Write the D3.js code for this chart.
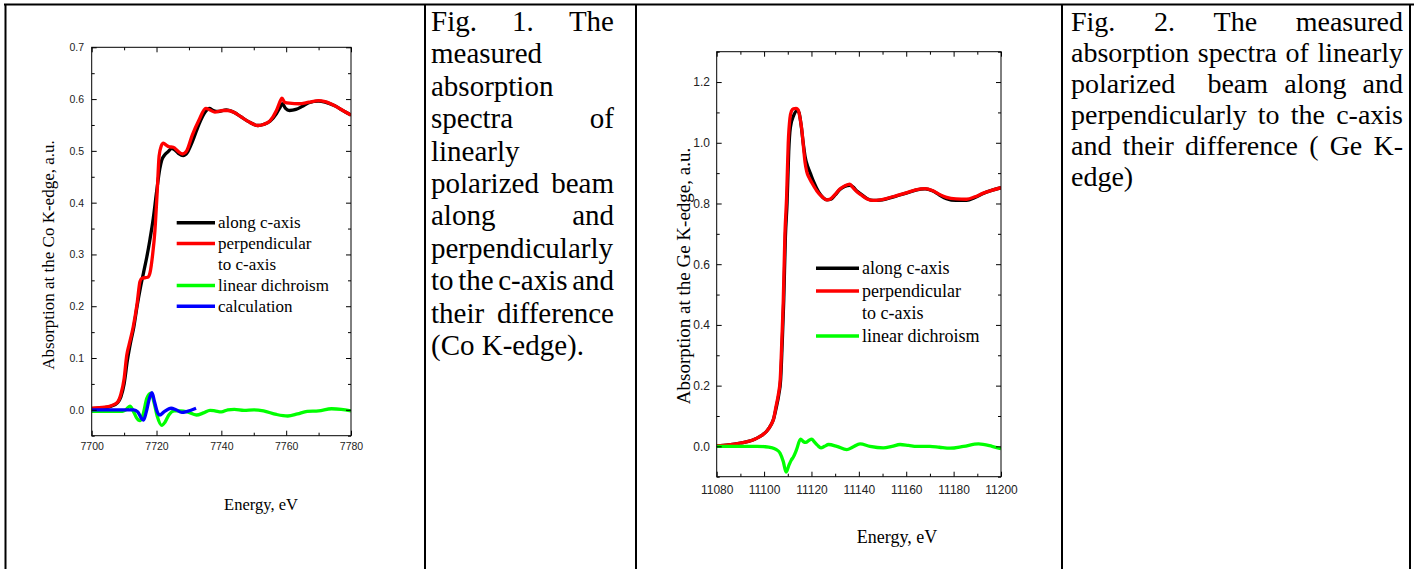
<!DOCTYPE html>
<html>
<head>
<meta charset="utf-8">
<script src="https://cdn.jsdelivr.net/npm/d3@7"></script>
<style>
body{margin:0;background:#fff;}
.tick text{font-family:"Liberation Sans",Arial,sans-serif;fill:#222;}
.serif{font-family:"Liberation Serif","Times New Roman",serif;fill:#000;}
</style>
</head>
<body>
<svg id="page" width="1414" height="569"></svg>
<script>
// Fig. 1 - Co K-edge
var coAlongE=[7700,7704,7706,7708,7709,7710,7711,7712,7713,7714,7715,7716,7717,7718,7719,7720,7721,7721.6,7722.5,7723.5,7724.7,7726,7727,7728.2,7729.5,7731,7733,7735,7736.3,7737.5,7739,7741.5,7744,7746,7748.5,7751.3,7753,7755,7757,7758.2,7758.8,7759.8,7761,7763,7765,7767,7770,7772,7775,7778,7780];
var coAlong=[0.002,0.004,0.007,0.014,0.025,0.05,0.095,0.13,0.16,0.2,0.235,0.265,0.295,0.33,0.37,0.42,0.465,0.482,0.492,0.498,0.505,0.5,0.494,0.491,0.497,0.517,0.55,0.575,0.582,0.578,0.576,0.579,0.574,0.566,0.556,0.549,0.551,0.557,0.572,0.585,0.591,0.582,0.578,0.58,0.586,0.593,0.596,0.594,0.587,0.576,0.569];
var coPerpE=[7700,7704,7706,7708,7709,7710,7710.8,7711.5,7712.8,7714,7714.9,7715.5,7717.3,7718,7718.8,7719.5,7720.2,7720.8,7721.5,7722.1,7723,7723.8,7725.2,7726.5,7728,7729.3,7731,7733,7735.2,7736.5,7738,7740.5,7742,7744,7746,7748.5,7751.3,7753,7755,7757,7758.3,7758.7,7759.5,7761,7764,7767,7770,7772,7775,7778,7780];
var coPerp=[0.003,0.005,0.008,0.015,0.03,0.06,0.105,0.125,0.16,0.205,0.248,0.254,0.256,0.265,0.3,0.345,0.42,0.49,0.51,0.515,0.511,0.508,0.507,0.5,0.494,0.5,0.53,0.558,0.582,0.579,0.575,0.578,0.578,0.574,0.566,0.556,0.549,0.551,0.558,0.578,0.598,0.602,0.594,0.592,0.591,0.594,0.597,0.595,0.587,0.576,0.569];
var coDichE=[7700,7705,7709.5,7710.5,7711.8,7712.8,7713.8,7714.9,7715.8,7717,7718.3,7719.2,7720.2,7721.6,7722.6,7723.8,7725.5,7727.5,7729.5,7732.3,7734.5,7736.5,7738,7740,7742,7744,7747,7750,7753,7757,7760.5,7763.5,7766.5,7770,7774,7777,7780];
var coDich=[-0.003,-0.003,-0.003,0,0.007,-0.002,-0.015,-0.021,-0.01,0.022,0.032,0.015,-0.012,-0.03,-0.024,-0.01,-0.002,-0.002,-0.004,-0.01,-0.006,-0.001,-0.002,-0.004,0,0.001,-0.001,0,-0.002,-0.009,-0.012,-0.008,-0.003,-0.002,0.002,0.001,-0.002];
var coCalcE=[7700,7705,7710,7713,7714.2,7715.3,7716,7716.8,7717.8,7718.6,7719.4,7720.3,7721,7722.3,7724.5,7726,7727.8,7729.5,7732.2];
var coCalc=[0,0,0,0,-0.004,-0.016,-0.02,-0.005,0.022,0.033,0.015,-0.005,-0.01,-0.004,0.003,0,-0.005,-0.003,0.003];

// Fig. 2 - Ge K-edge
var geAlongE=[11080,11085,11090,11095,11097,11099,11101,11103,11104,11105.2,11106.2,11107,11107.7,11108.3,11109,11109.7,11110.4,11111.1,11112.5,11113.8,11114.7,11115.6,11116.5,11117.3,11118.5,11119.5,11121,11123,11124.8,11126.6,11128.2,11130,11132,11134,11136.2,11137.6,11139,11141,11143.5,11146,11149,11152,11156,11160,11164,11168,11171,11174,11177,11181,11185.5,11189,11192.5,11196,11200];
var geAlong=[0.002,0.005,0.011,0.02,0.027,0.036,0.049,0.072,0.09,0.13,0.17,0.22,0.35,0.48,0.69,0.8,0.97,1.05,1.09,1.105,1.1,1.06,1.0,0.955,0.92,0.9,0.87,0.838,0.82,0.812,0.814,0.828,0.846,0.856,0.86,0.854,0.842,0.83,0.816,0.81,0.811,0.816,0.825,0.834,0.844,0.848,0.842,0.828,0.816,0.81,0.81,0.82,0.833,0.843,0.852];
var gePerpE=[11080,11085,11090,11095,11097,11099,11101,11103,11104,11105,11106,11106.8,11107.5,11108.1,11108.8,11109.5,11110.2,11110.9,11111.6,11112.3,11113.5,11114.4,11115.2,11115.9,11116.7,11117.3,11118,11119,11120.1,11122.2,11124.5,11126.4,11128,11130,11132,11134,11136.2,11137.5,11139,11141,11143.5,11146,11149,11152,11156,11160,11164,11168,11171,11174,11177,11181,11185.5,11189,11192.5,11196,11200];
var gePerp=[0.002,0.005,0.011,0.02,0.027,0.036,0.049,0.072,0.09,0.13,0.17,0.22,0.35,0.48,0.7,0.82,1.0,1.08,1.105,1.112,1.113,1.108,1.08,1.045,0.98,0.935,0.905,0.885,0.869,0.842,0.822,0.812,0.815,0.83,0.848,0.858,0.864,0.852,0.84,0.828,0.815,0.81,0.812,0.817,0.826,0.835,0.845,0.849,0.843,0.83,0.82,0.815,0.814,0.822,0.834,0.843,0.852];
var geDichE=[11080,11090,11097,11100,11103,11105,11106.7,11108.1,11109.3,11110.5,11111.5,11112.3,11113.7,11115.4,11116.5,11117.6,11119,11120.1,11121.2,11122.5,11124,11125.5,11127.2,11130.7,11134.9,11137.5,11140.5,11144.7,11150.3,11154,11157.4,11161,11164.4,11170,11174,11178.5,11184.2,11190.5,11196.2,11200];
var geDich=[0,0,0,-0.001,-0.004,-0.01,-0.022,-0.05,-0.085,-0.062,-0.045,-0.036,-0.011,0.024,0.016,0.013,0.02,0.024,0.015,0.004,-0.005,0,0.006,0,-0.011,-0.002,0.008,0,-0.005,0,0.006,0.003,0,0,-0.003,-0.006,0,0.008,0,-0.008];

// ticks
var coXMajor=[7700,7720,7740,7760,7780];
var coXMinor=[7710,7730,7750,7770];
var coYMajor=[0,0.1,0.2,0.3,0.4,0.5,0.6,0.7];
var coYMinor=[-0.05,0.05,0.15,0.25,0.35,0.45,0.55,0.65];
var geXMajor=[11080,11100,11120,11140,11160,11180,11200];
var geXMinor=[11090,11110,11130,11150,11170,11190];
var geYMajor=[0,0.2,0.4,0.6,0.8,1.0,1.2];
var geYMinor=[-0.1,0.1,0.3,0.5,0.7,0.9,1.1,1.3];

var coLegend=[["along c-axis"],["perpendicular","to c-axis"],["linear dichroism"],["calculation"]];
var geLegend=[["along c-axis"],["perpendicular","to c-axis"],["linear dichroism"]];
var colors=["#000000","#ff0000","#00ff00","#0000ff"];

var caption1=["Fig. 1. The","measured","absorption","spectra of","linearly","polarized beam","along and","perpendicularly","to the c-axis and","their difference","(Co K-edge)."];
var caption2=["Fig. 2. The measured","absorption spectra of linearly","polarized  beam along and","perpendicularly to the c-axis","and their difference ( Ge K-","edge)"];

var svg=d3.select("#page");

// table borders
svg.append("line").attr("x1",4).attr("x2",1414).attr("y1",4.5).attr("y2",4.5).attr("stroke","#000").attr("stroke-width",2);
[5.5,425,636,1062,1410].forEach(function(x){
    svg.append("line").attr("x1",x).attr("x2",x).attr("y1",4).attr("y2",569).attr("stroke","#000").attr("stroke-width",2);
});

function drawChart(id,x,y,series,xMajor,xMinor,yMajor,yMinor,fs,padX,padY){
    var g=svg.append("g");
    var xa=x.range(),ya=y.range();
    g.append("clipPath").attr("id",id).append("rect")
        .attr("x",xa[0]).attr("y",ya[1]).attr("width",xa[1]-xa[0]).attr("height",ya[0]-ya[1]);

    var line=d3.line()
        .x(function(d){return x(d[0]);})
        .y(function(d){return y(d[1]);})
        .curve(d3.curveMonotoneX);

    series.forEach(function(s,i){
        g.append("path")
            .attr("clip-path","url(#"+id+")")
            .attr("d",line(d3.zip(s[0],s[1])))
            .attr("fill","none")
            .attr("stroke",colors[i])
            .attr("stroke-width",3.3)
            .attr("stroke-linejoin","round");
    });

    // axes, ticks inward on every side
    function ax(gen,tr,vals,size,lab,pad){
        var a=g.append("g").attr("transform",tr)
            .call(gen.tickValues(vals).tickSizeInner(-size).tickSizeOuter(0).tickPadding(pad||0)
                .tickFormat(lab?lab:function(){return "";}));
        a.select(".domain").remove();
        a.selectAll("text").style("font-size",fs+"px");
        return a;
    }
    var fx=d3.format("d"),fy=d3.format(".1f");
    ax(d3.axisBottom(x),"translate(0,"+ya[0]+")",xMajor,5,fx,padX);
    ax(d3.axisBottom(x),"translate(0,"+ya[0]+")",xMinor,3);
    ax(d3.axisTop(x),"translate(0,"+ya[1]+")",xMajor,5);
    ax(d3.axisTop(x),"translate(0,"+ya[1]+")",xMinor,3);
    ax(d3.axisLeft(y),"translate("+xa[0]+",0)",yMajor,5,fy,padY);
    ax(d3.axisLeft(y),"translate("+xa[0]+",0)",yMinor,3);
    ax(d3.axisRight(y),"translate("+xa[1]+",0)",yMajor,5);
    ax(d3.axisRight(y),"translate("+xa[1]+",0)",yMinor,3);

    g.append("rect").attr("x",xa[0]).attr("y",ya[1]).attr("width",xa[1]-xa[0]).attr("height",ya[0]-ya[1])
        .attr("fill","none").attr("stroke","#000").attr("stroke-width",1);
    return g;
}

function drawLegend(g,items,x0,x1,y0,step,fs){
    var row=0;
    items.forEach(function(lines,i){
        var yy=y0+row*step;
        g.append("line").attr("x1",x0).attr("x2",x1).attr("y1",yy).attr("y2",yy)
            .attr("stroke",colors[i]).attr("stroke-width",3.5);
        lines.forEach(function(t,k){
            g.append("text").attr("class","serif").attr("x",x1+3).attr("y",yy+(k*step)+fs*0.33)
                .style("font-size",fs+"px").text(t);
        });
        row+=lines.length;
    });
}

function caption(lines,x0,x1,y0,lh,fs){
    var g=svg.append("g").attr("class","serif").style("font-size",fs+"px");
    lines.forEach(function(ln,i){
        var yy=y0+i*lh;
        var toks=ln.split(" ");
        var nodes=toks.map(function(t){return g.append("text").attr("y",yy).text(t);});
        var w=nodes.map(function(n,k){return toks[k]?n.node().getComputedTextLength():0;});
        var gap=fs*0.25;
        if(i<lines.length-1&&toks.length>1){
            gap=(x1-x0-d3.sum(w))/(toks.length-1);
        }
        var cx=x0;
        nodes.forEach(function(n,k){n.attr("x",cx);cx+=w[k]+gap;});
    });
}

// chart 1
var x1=d3.scaleLinear().domain([7700,7780]).range([91.7,351]);
var y1=d3.scaleLinear().domain([-0.05,0.7]).range([435.7,47.3]);
var g1=drawChart("clip1",x1,y1,[[coAlongE,coAlong],[coPerpE,coPerp],[coDichE,coDich],[coCalcE,coCalc]],
    coXMajor,coXMinor,coYMajor,coYMinor,10.5,7.3,7.7);
drawLegend(g1,coLegend,176.7,215,222.7,20.9,17);
g1.append("text").attr("class","serif").attr("text-anchor","middle")
    .attr("transform","translate(54,255) rotate(-90)").style("font-size","17px")
    .text("Absorption at the Co K-edge, a.u.");
g1.append("text").attr("class","serif").attr("text-anchor","middle")
    .attr("x",261).attr("y",510).style("font-size","16.5px").text("Energy, eV");

// chart 2
var x2=d3.scaleLinear().domain([11080,11200]).range([716.7,1001]);
var y2=d3.scaleLinear().domain([-0.1,1.3]).range([476.7,51.7]);
var g2=drawChart("clip2",x2,y2,[[geAlongE,geAlong],[gePerpE,gePerp],[geDichE,geDich]],
    geXMajor,geXMinor,geYMajor,geYMinor,12,8.4,6.7);
drawLegend(g2,geLegend,816,859,268.3,22.6,18);
g2.append("text").attr("class","serif").attr("text-anchor","middle")
    .attr("transform","translate(690,276) rotate(-90)").style("font-size","19px")
    .text("Absorption at the Ge K-edge, a.u.");
g2.append("text").attr("class","serif").attr("text-anchor","middle")
    .attr("x",897).attr("y",543).style("font-size","18px").text("Energy, eV");

// captions
caption(caption1,431,614,31,32.4,29);
caption(caption2,1071,1403,31,31,28);
</script>
</body>
</html>
